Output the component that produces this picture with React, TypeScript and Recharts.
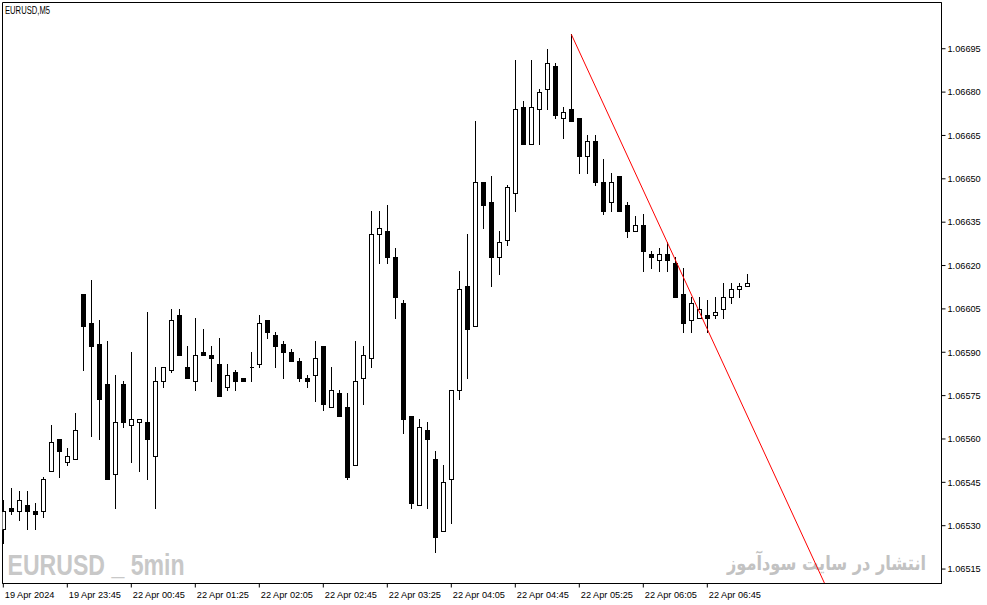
import React from 'react';
import {
  ComposedChart,
  Bar,
  XAxis,
  YAxis,
  ReferenceLine,
  ReferenceArea,
} from 'recharts';

// EURUSD M5 candles
const opens = [
  1.06529, 1.06536, 1.06535, 1.06537, 1.06535, 1.06535, 1.06549, 1.0656, 1.06552, 1.06553,
  1.0661, 1.066, 1.06593, 1.06579, 1.06548, 1.06579, 1.06565, 1.06566, 1.06566, 1.06554,
  1.0658, 1.06584, 1.06603, 1.06585, 1.0658, 1.0659, 1.06589, 1.06586, 1.06578, 1.06583,
  1.06581, 1.06585, 1.06586, 1.06601, 1.06596, 1.06593, 1.0659, 1.06587, 1.06581, 1.06582,
  1.06592, 1.06571, 1.06576, 1.06571, 1.06551, 1.06581, 1.06588, 1.06631, 1.06632, 1.06623,
  1.06607, 1.06568, 1.06537, 1.06563, 1.06553, 1.06528, 1.06546, 1.06577, 1.06613, 1.06599,
  1.06649, 1.06642, 1.06623, 1.06629, 1.06645, 1.06675, 1.06662, 1.06674, 1.06681, 1.06689,
  1.06671, 1.06674, 1.06671, 1.06658, 1.06663, 1.06649, 1.06642, 1.06651, 1.06641, 1.06632,
  1.06634, 1.06624, 1.06622, 1.06624, 1.06621, 1.0661, 1.06601, 1.06602, 1.06603, 1.06603,
  1.06605, 1.06609, 1.06612, 1.06613,
];
const highs = [
  1.06539, 1.06543, 1.06542, 1.06542, 1.06538, 1.06547, 1.06565, 1.0656, 1.06557, 1.06569,
  1.0661, 1.06615, 1.06601, 1.06594, 1.06582, 1.0658, 1.0659, 1.06567, 1.06604, 1.06585,
  1.06585, 1.06605, 1.06605, 1.06592, 1.06602, 1.06598, 1.06592, 1.06595, 1.06586, 1.06584,
  1.06581, 1.0659, 1.06603, 1.06601, 1.06597, 1.06594, 1.06591, 1.06588, 1.06582, 1.06594,
  1.06592, 1.06585, 1.06577, 1.06576, 1.06594, 1.06592, 1.06639, 1.06639, 1.06641, 1.06626,
  1.06608, 1.06568, 1.06567, 1.06566, 1.06556, 1.06551, 1.06577, 1.06618, 1.06631, 1.0667,
  1.06649, 1.06651, 1.06632, 1.06648, 1.06691, 1.06677, 1.06691, 1.06681, 1.06695, 1.0669,
  1.06675, 1.067, 1.06671, 1.06665, 1.06665, 1.06657, 1.06652, 1.06651, 1.06642, 1.06637,
  1.06638, 1.06625, 1.06626, 1.06628, 1.06623, 1.06619, 1.06609, 1.06609, 1.06608, 1.06609,
  1.06614, 1.06614, 1.06614, 1.06617,
];
const lows = [
  1.06524, 1.06534, 1.06532, 1.06529, 1.06529, 1.06533, 1.06549, 1.06547, 1.06551, 1.06553,
  1.06584, 1.06561, 1.0656, 1.06546, 1.06536, 1.06564, 1.06552, 1.06549, 1.06546, 1.06536,
  1.06578, 1.06583, 1.06589, 1.06581, 1.06577, 1.06589, 1.0658, 1.06575, 1.06577, 1.06577,
  1.0658, 1.0658, 1.06585, 1.06595, 1.06585, 1.06581, 1.06587, 1.0658, 1.06578, 1.06573,
  1.0657, 1.06571, 1.06568, 1.06546, 1.06551, 1.06572, 1.06585, 1.06621, 1.06621, 1.06602,
  1.06562, 1.06536, 1.06537, 1.06536, 1.06521, 1.06528, 1.06531, 1.06574, 1.06581, 1.06599,
  1.06633, 1.06613, 1.06617, 1.06627, 1.06639, 1.06662, 1.06662, 1.06662, 1.06674, 1.06671,
  1.06664, 1.0667, 1.06652, 1.06652, 1.06648, 1.06638, 1.06639, 1.06639, 1.0663, 1.06632,
  1.06618, 1.06619, 1.06618, 1.06618, 1.06609, 1.06597, 1.06597, 1.06602, 1.06597, 1.06602,
  1.06602, 1.06607, 1.06609, 1.06613,
];
const closes = [
  1.06535, 1.06535, 1.06539, 1.06535, 1.06534, 1.06546, 1.06559, 1.06556, 1.06554, 1.06563,
  1.06599, 1.06592, 1.06574, 1.06546, 1.06566, 1.06566, 1.06567, 1.06567, 1.0656, 1.0658,
  1.06585, 1.06601, 1.06589, 1.06581, 1.06589, 1.06589, 1.06588, 1.06575, 1.06582, 1.0658,
  1.0658, 1.06585, 1.066, 1.06597, 1.06592, 1.0659, 1.06587, 1.06581, 1.0658, 1.06588,
  1.06572, 1.06577, 1.06568, 1.06547, 1.0658, 1.06589, 1.06631, 1.06633, 1.06623, 1.06609,
  1.06567, 1.06538, 1.06564, 1.0656, 1.06526, 1.06545, 1.06577, 1.06612, 1.06598, 1.06649,
  1.06641, 1.06623, 1.06628, 1.06647, 1.06674, 1.06662, 1.06675, 1.0668, 1.0669, 1.06672,
  1.06673, 1.0667, 1.06658, 1.06663, 1.06649, 1.06639, 1.06649, 1.06639, 1.06632, 1.06634,
  1.06625, 1.06623, 1.06624, 1.06622, 1.06609, 1.066, 1.06607, 1.06605, 1.06602, 1.06604,
  1.06609, 1.06612, 1.06613, 1.06614,
];

const timeTickIdx = [0, 8, 16, 24, 32, 40, 48, 56, 64, 72, 80, 88];
const timeLabels = [
  '19 Apr 2024', '19 Apr 23:45', '22 Apr 00:45', '22 Apr 01:25', '22 Apr 02:05', '22 Apr 02:45',
  '22 Apr 03:25', '22 Apr 04:05', '22 Apr 04:45', '22 Apr 05:25', '22 Apr 06:05', '22 Apr 06:45',
];
const priceTicks = [
  1.06515, 1.0653, 1.06545, 1.0656, 1.06575, 1.0659, 1.06605, 1.0662, 1.06635, 1.0665, 1.06665,
  1.0668, 1.06695,
];

// trend line drawn on the chart (bar index, price)
const trendFrom = { x: 71, y: 1.067 };
const trendTo = { x: 103, y: 1.06508 };

const xDomain = [-0.1, 117.275];
const yDomain = [1.0651, 1.06711];

const W = 987;
const H = 605;
const axisFont = "'Liberation Sans', Arial, sans-serif";

const chartData = opens.map((o, i) => ({
  i,
  open: o,
  high: highs[i],
  low: lows[i],
  close: closes[i],
  range: [lows[i], highs[i]],
}));

const Candle = (props: any) => {
  const { x, y, width, height, payload } = props;
  const { open, close, high, low } = payload;
  const top = Math.min(y, y + height);
  const h = Math.abs(height);
  const k = high === low ? 0 : h / (high - low);
  const yOf = (v: number) => top + (high - v) * k;
  const cx = Math.round(x + width / 2) + 0.5;
  const bTop = Math.round(yOf(Math.max(open, close))) + 0.5;
  const bBot = Math.round(yOf(Math.min(open, close))) + 0.5;
  const up = close >= open;
  return (
    <g shapeRendering="crispEdges">
      <line x1={cx} x2={cx} y1={Math.round(top)} y2={Math.round(top + h) + 1} stroke="#000" />
      <path
        d={`M${cx - 2} ${bTop}H${cx + 2}V${bBot}H${cx - 2}Z`}
        fill={up ? '#fff' : '#000'}
        stroke="#000"
      />
    </g>
  );
};

const TimeTick = (props: any) => {
  const { x, y, payload } = props;
  const idx = timeTickIdx.indexOf(payload.value);
  return (
    <text x={x + 1.5} y={y + 10} fontSize={9.2} fontFamily={axisFont} fill="#000" textAnchor="start">
      {timeLabels[idx]}
    </text>
  );
};

export default function App() {
  return (
    <div style={{ position: 'absolute', left: 0, top: 0, width: W, height: H, background: '#fff' }}>
      <svg width={W} height={H} style={{ position: 'absolute', left: 0, top: 0 }}>
        <text
          x={96}
          y={575}
          fontSize={29}
          fontWeight="bold"
          fontFamily="'Liberation Sans Narrow', 'Arial Narrow', 'Liberation Sans', sans-serif"
          fill="#c8c8c8"
          textAnchor="middle"
          textLength={177}
          lengthAdjust="spacingAndGlyphs"
        >
          EURUSD _ 5min
        </text>
        <text
          x={926}
          y={570}
          fontSize={20}
          fontWeight="bold"
          fontFamily="'DejaVu Sans', sans-serif"
          fill="#c2c2c2"
          direction="rtl"
          textAnchor="start"
          textLength={199}
          lengthAdjust="spacingAndGlyphs"
        >
          انتشار در سایت سودآموز
        </text>
        <text x={5} y={14} fontSize={10} fontFamily={axisFont} fill="#000" textLength={45} lengthAdjust="spacingAndGlyphs">
          EURUSD,M5
        </text>
      </svg>
      <div style={{ position: 'absolute', left: 0, top: 0 }}>
        <ComposedChart
          width={W}
          height={H}
          data={chartData}
          margin={{ top: 2.5, right: 0, bottom: 0, left: 2.5 }}
        >
          <XAxis
            dataKey="i"
            type="number"
            domain={xDomain}
            allowDataOverflow
            ticks={timeTickIdx}
            interval={0}
            height={21.5}
            tick={<TimeTick />}
            tickSize={4}
            tickMargin={0}
            tickLine={{ stroke: '#000' }}
            axisLine={{ stroke: '#000' }}
          />
          <YAxis
            orientation="right"
            type="number"
            domain={yDomain}
            allowDataOverflow
            ticks={priceTicks}
            interval={0}
            width={45.5}
            tickFormatter={(v: number) => v.toFixed(5)}
            tick={{ fill: '#000', fontSize: 9.2, fontFamily: axisFont }}
            tickSize={4}
            tickMargin={2}
            tickLine={{ stroke: '#000' }}
            axisLine={{ stroke: '#000' }}
          />
          <ReferenceArea
            x1={xDomain[0]}
            x2={xDomain[1]}
            y1={yDomain[0]}
            y2={yDomain[1]}
            fill="none"
            stroke="#000"
            strokeWidth={1}
            fillOpacity={0}
          />
          <Bar dataKey="range" barSize={5} shape={<Candle />} isAnimationActive={false} />
          <ReferenceLine
            segment={[trendFrom, trendTo]}
            stroke="#ff0000"
            strokeWidth={1}
            ifOverflow="hidden"
          />
        </ComposedChart>
      </div>
    </div>
  );
}
